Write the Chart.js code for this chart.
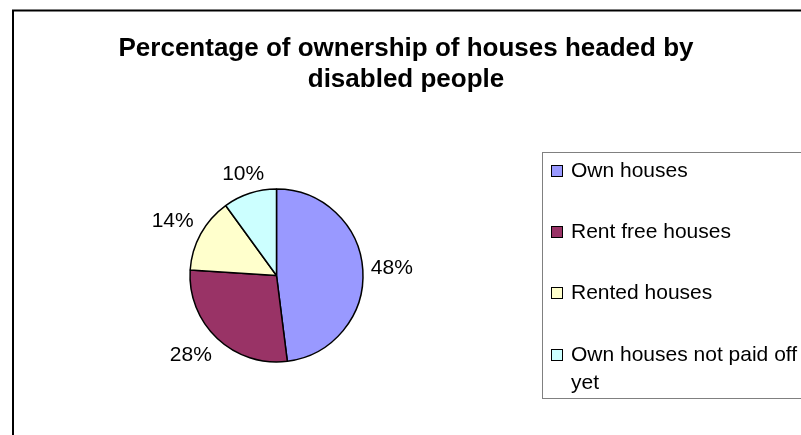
<!DOCTYPE html>
<html>
<head>
<meta charset="utf-8">
<title>Ownership of houses</title>
<script src="https://cdn.jsdelivr.net/npm/chart.js@4/dist/chart.umd.min.js"></script>
<style>
  html, body { margin: 0; padding: 0; background: #ffffff; }
  #wrap { width: 801px; height: 435px; }
</style>
</head>
<body>
<div id="wrap"><canvas id="ownershipChart" width="801" height="435"></canvas></div>
<script>
// pie data
const categories = ["Own houses", "Rent free houses", "Rented houses", "Own houses not paid off yet"];
const shares = [48, 28, 14, 10];
const sliceColors = ["#9999ff", "#993366", "#ffffcc", "#ccffff"];
const titleLines = ["Percentage of ownership of houses headed by", "disabled people"];

const FONT = "'Liberation Sans', Arial, sans-serif";

// white background, outer frame and title
const framePlugin = {
    id: "frame",
    beforeDraw(chart) {
        const ctx = chart.ctx;
        ctx.save();
        ctx.fillStyle = "#ffffff";
        ctx.fillRect(0, 0, chart.width, chart.height);
        ctx.strokeStyle = "#000000";
        ctx.lineWidth = 2;
        ctx.strokeRect(13, 10.5, chart.width + 20, chart.height + 20);

        ctx.fillStyle = "#000000";
        ctx.font = "bold 26px " + FONT;
        ctx.textAlign = "center";
        ctx.textBaseline = "alphabetic";
        ctx.fillText(titleLines[0], 406, 56);
        ctx.fillText(titleLines[1], 406, 87);
        ctx.restore();
    }
};

const clamp01 = v => Math.max(0, Math.min(1, v));

// percentage labels outside each slice; the text box sits just past the rim
const sliceLabels = {
    id: "sliceLabels",
    afterDatasetsDraw(chart) {
        const ctx = chart.ctx;
        const arcs = chart.getDatasetMeta(0).data;
        ctx.save();
        ctx.fillStyle = "#000000";
        ctx.font = "21px " + FONT;
        ctx.textAlign = "center";
        ctx.textBaseline = "middle";
        arcs.forEach((arc, i) => {
            const text = shares[i] + "%";
            const mid = (arc.startAngle + arc.endAngle) / 2;
            const cos = Math.cos(mid), sin = Math.sin(mid);
            const r = arc.outerRadius + 8;
            const halfW = ctx.measureText(text).width / 2;
            const halfH = 11;
            const x = arc.x + cos * r + Math.sign(cos) * halfW * clamp01((Math.abs(cos) - 0.25) / 0.3);
            const y = arc.y + sin * r + Math.sign(sin) * halfH * clamp01(Math.abs(sin) / 0.6);
            ctx.fillText(text, x, y);
        });
        ctx.restore();
    }
};

// boxed legend on the right
const boxLegend = {
    id: "boxLegend",
    afterDraw(chart) {
        const ctx = chart.ctx;
        ctx.save();
        ctx.strokeStyle = "#808080";
        ctx.lineWidth = 1;
        ctx.strokeRect(542.5, 152.5, 300, 246);

        const rows = [171, 232, 293, 355];
        ctx.font = "21px " + FONT;
        ctx.textBaseline = "middle";
        ctx.textAlign = "left";
        categories.forEach((name, i) => {
            const y = rows[i];
            ctx.fillStyle = sliceColors[i];
            ctx.fillRect(551, y - 6, 12, 12);
            ctx.strokeStyle = "#000000";
            ctx.strokeRect(551.5, y - 5.5, 11, 11);
            ctx.fillStyle = "#000000";
            // the last entry wraps onto a second line
            if (name.endsWith(" yet")) {
                ctx.fillText(name.slice(0, -4), 571, y);
                ctx.fillText("yet", 571, y + 28);
            } else {
                ctx.fillText(name, 571, y);
            }
        });
        ctx.restore();
    }
};

new Chart(document.getElementById("ownershipChart"), {
    type: "pie",
    data: {
        labels: categories,
        datasets: [{
            data: shares,
            backgroundColor: sliceColors,
            borderColor: "#000000",
            borderWidth: 1.5,
            borderAlign: "center"
        }]
    },
    options: {
        responsive: false,
        devicePixelRatio: 1,
        animation: false,
        radius: 86.5,
        layout: { padding: { left: 190, right: 438, top: 189, bottom: 73 } },
        plugins: {
            legend: { display: false },
            title: { display: false },
            tooltip: { enabled: false }
        }
    },
    plugins: [framePlugin, sliceLabels, boxLegend]
});
</script>
</body>
</html>
